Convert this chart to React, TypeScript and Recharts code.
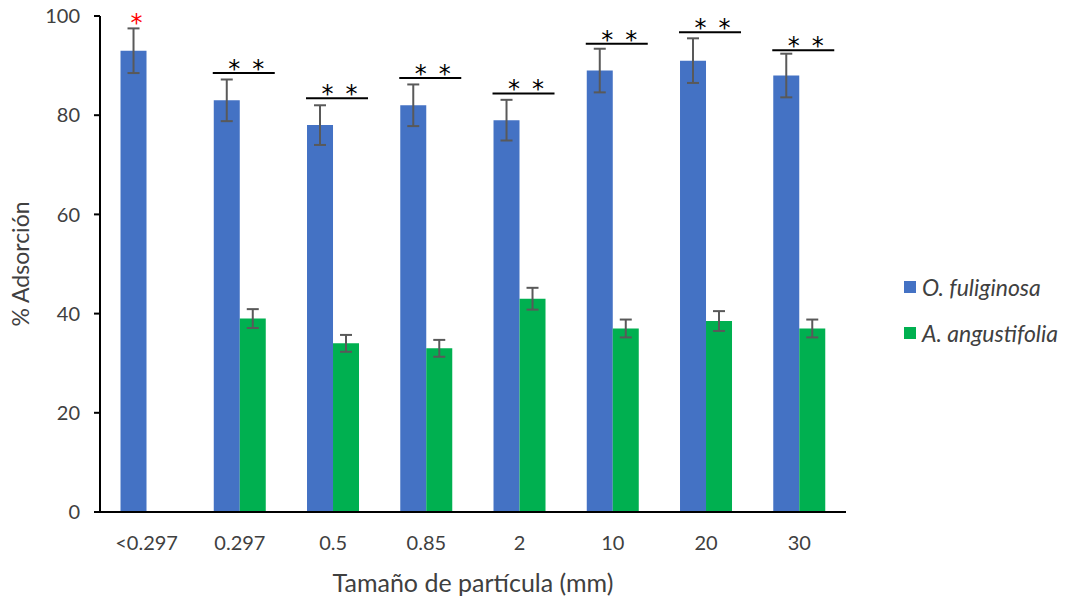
import { BarChart, Bar, XAxis, YAxis, ErrorBar, LabelList } from "recharts";

const sizes = ["<0.297", "0.297", "0.5", "0.85", "2", "10", "20", "30"];
const fuliginosa = [93, 83, 78, 82, 79, 89, 91, 88];
const fuliginosaErr = [4.5, 4.2, 4, 4.2, 4.1, 4.4, 4.5, 4.4];
const angustifolia = [null, 39, 34, 33, 43, 37, 38.5, 37];
const angustifoliaErr = [null, 1.9, 1.7, 1.7, 2.2, 1.8, 2, 1.8];
// significance marks over each size group, and the height of the bracket
const sigMarks = ["*", "* *", "* *", "* *", "* *", "* *", "* *", "* *"];
const sigLevels = [97.8, 88.5, 83.4, 87.5, 84.4, 94.4, 96.7, 93.1];
const yTicks = [0, 20, 40, 60, 80, 100];

const BLUE = "#4472C4";
const GREEN = "#00B050";
const FONT = "Lato, 'Open Sans', sans-serif";

const data = sizes.map((s, i) => ({
  size: s,
  fuliginosa: fuliginosa[i],
  fuliginosaErr: fuliginosaErr[i],
  angustifolia: angustifolia[i],
  angustifoliaErr: angustifoliaErr[i],
  sig: sigMarks[i],
}));

const legendItems = [
  { name: "O. fuliginosa", color: BLUE },
  { name: "A. angustifolia", color: GREEN },
];

const starStyle = { fontFamily: "DejaVu Sans", fontSize: 24 };

function SigMark(props: any) {
  const vb = props.viewBox ?? props;
  const x = Number(props.x ?? vb.x);
  const y = Number(props.y ?? vb.y);
  const width = Number(props.width ?? vb.width);
  const height = Number(props.height ?? vb.height);
  const index = props.index;
  const v = fuliginosa[index];
  const base = y + height;
  const ly = base - (sigLevels[index] / v) * height;
  const mark = sigMarks[index];
  if (mark === "*") {
    return (
      <text x={x + width / 2 + 3} y={ly + 4} textAnchor="middle" fill="#FF0000" style={starStyle}>
        *
      </text>
    );
  }
  const cx = x + width * 1.25;
  return (
    <g>
      <line x1={x - 1} x2={x + width * 2 + 9} y1={ly} y2={ly} stroke="#000" strokeWidth={2} />
      <text x={cx - 12} y={ly + 4} textAnchor="middle" fill="#000" style={starStyle}>
        *
      </text>
      <text x={cx + 12} y={ly + 4} textAnchor="middle" fill="#000" style={starStyle}>
        *
      </text>
    </g>
  );
}

function LegendBox() {
  return (
    <div
      style={{
        position: "absolute",
        left: 904,
        top: 264,
        fontFamily: FONT,
        fontStyle: "italic",
        fontSize: 23,
        color: "#404040",
      }}
    >
      {legendItems.map((it) => (
        <div key={it.name} style={{ display: "flex", alignItems: "center", height: 46, whiteSpace: "nowrap" }}>
          <span style={{ width: 12, height: 12, background: it.color, marginRight: 6, display: "inline-block" }} />
          <span>{it.name}</span>
        </div>
      ))}
    </div>
  );
}

export default function App() {
  return (
    <div style={{ position: "absolute", left: 0, top: 0, width: 1068, height: 598, background: "#fff" }}>
      <BarChart
        width={1068}
        height={598}
        data={data}
        margin={{ top: 16, right: 222, bottom: 0, left: 0 }}
        barCategoryGap="22%"
        barGap={0}
      >
        <XAxis
          dataKey="size"
          height={86}
          axisLine={{ stroke: "#000", strokeWidth: 2 }}
          tickLine={false}
          tickMargin={18}
          tick={{ fill: "#404040", fontSize: 20, fontFamily: FONT }}
          label={{ value: "Tamaño de partícula (mm)", position: "center", dy: 28, dx: 0, fill: "#404040", fontSize: 25, fontFamily: FONT }}
        />
        <YAxis
          width={100}
          domain={[0, 100]}
          ticks={yTicks}
          interval={0}
          axisLine={{ stroke: "#000", strokeWidth: 2 }}
          tickLine={{ stroke: "#000", strokeWidth: 2 }}
          tickSize={6}
          tickMargin={14}
          tick={{ fill: "#404040", fontSize: 20, fontFamily: FONT }}
          label={{ value: "% Adsorción", angle: -90, position: "center", dx: -29, fill: "#404040", fontSize: 23, fontFamily: FONT }}
        />
        <Bar dataKey="fuliginosa" name="O. fuliginosa" fill={BLUE} isAnimationActive={false}>
          <ErrorBar dataKey="fuliginosaErr" width={6} stroke="#595959" strokeWidth={2} />
          <LabelList dataKey="sig" content={<SigMark />} />
        </Bar>
        <Bar dataKey="angustifolia" name="A. angustifolia" fill={GREEN} isAnimationActive={false}>
          <ErrorBar dataKey="angustifoliaErr" width={6} stroke="#595959" strokeWidth={2} />
        </Bar>
      </BarChart>
      <LegendBox />
    </div>
  );
}
